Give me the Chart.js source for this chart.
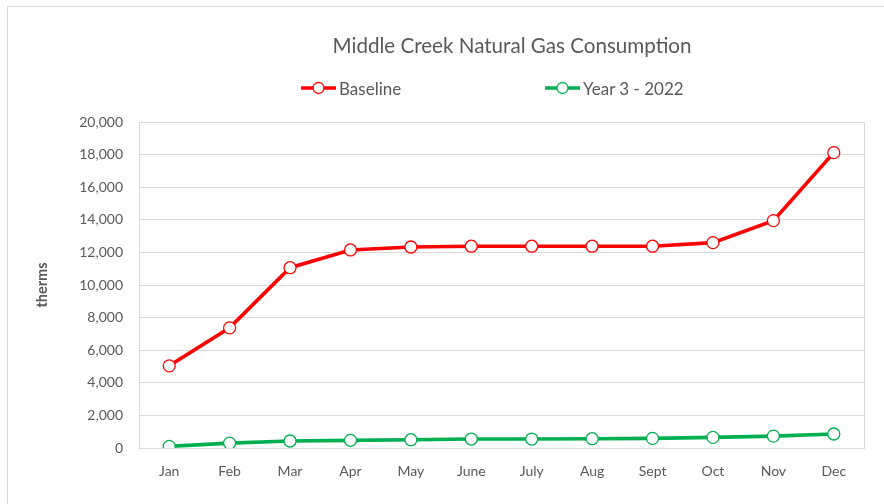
<!DOCTYPE html>
<html>
<head>
<meta charset="utf-8">
<script src="https://cdn.jsdelivr.net/npm/chart.js@4.4.0/dist/chart.umd.min.js"></script>
<style>
  body { margin: 0; background: #fff; }
  .wrap { position: relative; width: 884px; height: 504px; overflow: hidden; font-family: Lato, "Noto Sans", sans-serif; }
  .frame { position: absolute; left: 7px; top: 6px; width: 1000px; height: 600px; border-left: 1px solid #d9d9d9; border-top: 1px solid #d9d9d9; }
  .title { position: absolute; left: 312px; width: 400px; top: 33px; text-align: center; color: #595959; font-size: 20.6px; line-height: 24px; white-space: nowrap; }
  .legend-item { position: absolute; top: 79px; height: 18px; display: flex; align-items: center; color: #595959; font-size: 17px; }
  .legend-item svg { margin-right: 3px; }
</style>
</head>
<body>
<div class="wrap">
  <div class="frame"></div>
  <canvas id="gasChart" width="884" height="504"></canvas>
  <div class="title">Middle Creek Natural Gas Consumption</div>
  <div id="legend"></div>
</div>
<script>
/* monthly gas use, therms */
const months = ['Jan','Feb','Mar','Apr','May','June','July','Aug','Sept','Oct','Nov','Dec'];
const baseline = [5040, 7370, 11060, 12150, 12330, 12380, 12380, 12380, 12380, 12600, 13950, 18120];
const year3 = [100, 300, 430, 470, 510, 550, 550, 570, 590, 650, 730, 860];
const seriesNames = ['Baseline', 'Year 3 - 2022'];
const seriesColors = ['#ff0000', '#00b050'];

const textColor = '#595959';
const gridColor = '#d9d9d9';

function lineSet(label, data, color) {
    return {
        label: label,
        data: data,
        borderColor: color,
        borderWidth: 3.6,
        pointRadius: 6,
        pointBorderWidth: 1.3,
        pointBackgroundColor: '#fff',
        pointBorderColor: color,
        tension: 0
    };
}

let ctx = document.getElementById('gasChart').getContext('2d');
let gasChart = new Chart(ctx, {
    type: 'line',
    data: {
        labels: months,
        datasets: [
            lineSet(seriesNames[0], baseline, seriesColors[0]),
            lineSet(seriesNames[1], year3, seriesColors[1])
        ]
    },
    options: {
        responsive: false,
        animation: false,
        layout: { padding: { top: 122, left: 0, right: 0, bottom: 0 } },
        plugins: {
            legend: { display: false },
            tooltip: { enabled: false }
        },
        scales: {
            x: {
                offset: true,
                grid: { display: false },
                border: { display: true, color: gridColor },
                ticks: { color: textColor, font: { family: 'Lato', size: 14 }, padding: 7 },
                afterFit: function(s) { s.height = 56; }
            },
            y: {
                min: 0,
                max: 20000,
                ticks: {
                    stepSize: 2000,
                    color: textColor,
                    font: { family: 'Lato', size: 14 },
                    padding: 16,
                    callback: function(v) { return v.toLocaleString('en-US'); }
                },
                grid: { color: gridColor, drawTicks: false },
                border: { display: true, color: gridColor },
                title: {
                    display: true,
                    text: 'therms',
                    color: textColor,
                    font: { family: 'Lato', size: 14.5, weight: 'bold' },
                    padding: { top: 34, bottom: 0 }
                },
                afterFit: function(s) { s.width = 139; }
            },
            y2: {
                position: 'right',
                min: 0,
                max: 20000,
                ticks: { display: false },
                grid: { display: false },
                border: { display: true, color: gridColor },
                afterFit: function(s) { s.width = 20; }
            }
        }
    }
});

/* legend: line + open circle marker, like the spreadsheet */
let legendLeft = [301, 545];
let legend = document.getElementById('legend');
seriesNames.forEach(function(name, i) {
    let item = document.createElement('div');
    item.className = 'legend-item';
    item.style.left = legendLeft[i] + 'px';
    item.innerHTML = '<svg width="35" height="14"><line x1="0" y1="7" x2="35" y2="7" stroke="' + seriesColors[i] +
        '" stroke-width="3.5"/><circle cx="17.5" cy="7" r="5.5" fill="#fff" stroke="' + seriesColors[i] +
        '" stroke-width="1.3"/></svg><span>' + name + '</span>';
    legend.appendChild(item);
});
</script>
</body>
</html>
